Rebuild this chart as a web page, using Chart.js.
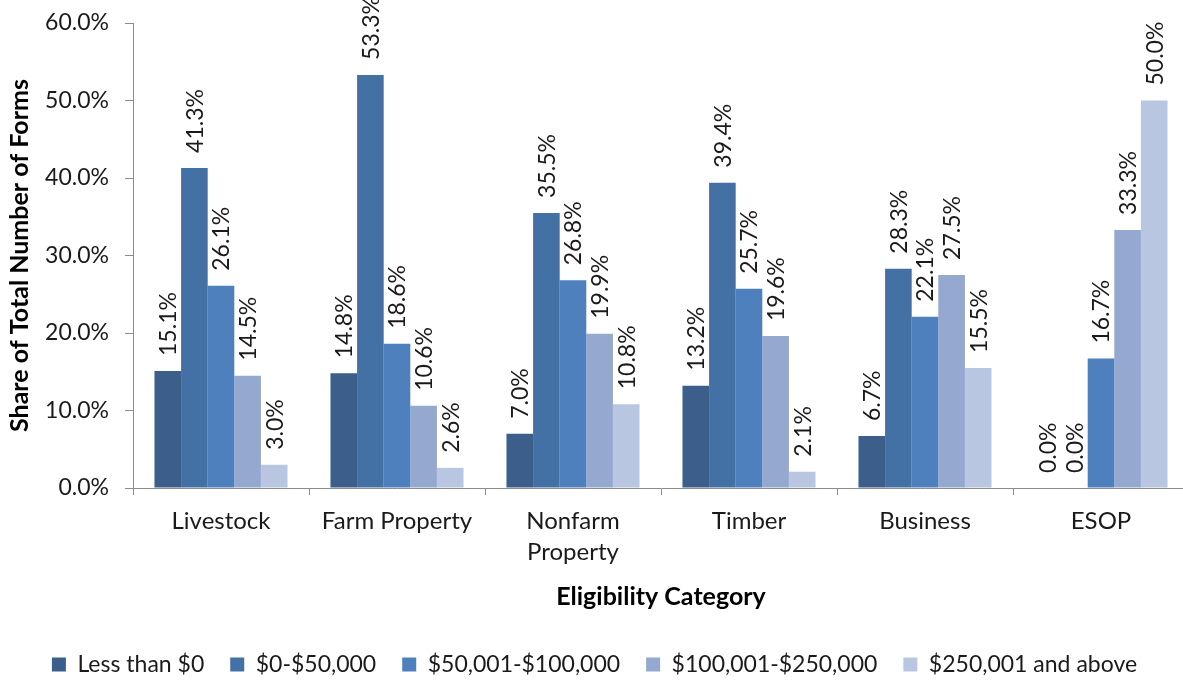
<!DOCTYPE html>
<html>
<head>
<meta charset="utf-8">
<script src="https://cdn.jsdelivr.net/npm/chart.js@4/dist/chart.umd.min.js"></script>
<style>
    html, body { margin: 0; padding: 0; background: #fff; overflow: hidden; }
    #wrap { width: 1196px; height: 686px; }
</style>
</head>
<body>
<div id="wrap"><canvas id="eligibilityChart" width="1196" height="686"></canvas></div>
<script>
// --- Data (percent of total number of forms) ---
const categories = ['Livestock', 'Farm Property', ['Nonfarm', 'Property'], 'Timber', 'Business', 'ESOP'];
const seriesNames = ['Less than $0', '$0-$50,000', '$50,001-$100,000', '$100,001-$250,000', '$250,001 and above'];
const lessThanZero = [15.1, 14.8, 7.0, 13.2, 6.7, 0.0];
const zeroTo50k = [41.3, 53.3, 35.5, 39.4, 28.3, 0.0];
const from50kTo100k = [26.1, 18.6, 26.8, 25.7, 22.1, 16.7];
const from100kTo250k = [14.5, 10.6, 19.9, 19.6, 27.5, 33.3];
const from250kUp = [3.0, 2.6, 10.8, 2.1, 15.5, 50.0];
const yTicks = [0, 10, 20, 30, 40, 50, 60];

const barColors = ['#3B5E8B', '#4370A5', '#4E80BD', '#95A8CF', '#B9C6E2'];
const textColor = '#1a1a1a';
const axisColor = '#8C8C8C';
const FONT = 'Lato';

// Rotated value labels sitting above each bar
const valueLabels = {
    id: 'valueLabels',
    afterDatasetsDraw(chart) {
        const ctx = chart.ctx;
        ctx.save();
        ctx.font = '23px ' + FONT;
        ctx.fillStyle = textColor;
        ctx.textAlign = 'left';
        ctx.textBaseline = 'middle';
        chart.data.datasets.forEach((ds, i) => {
            chart.getDatasetMeta(i).data.forEach((bar, j) => {
                ctx.save();
                ctx.translate(bar.x + 1, bar.y - 15);
                ctx.rotate(-Math.PI / 2);
                ctx.fillText(ds.data[j].toFixed(1) + '%', 0, 0);
                ctx.restore();
            });
        });
        ctx.restore();
    }
};

const allSeries = [lessThanZero, zeroTo50k, from50kTo100k, from100kTo250k, from250kUp];

new Chart(document.getElementById('eligibilityChart').getContext('2d'), {
    type: 'bar',
    data: {
        labels: categories,
        datasets: allSeries.map((vals, i) => ({
            label: seriesNames[i],
            data: vals,
            backgroundColor: barColors[i],
            borderWidth: 0,
            categoryPercentage: 0.756,
            barPercentage: 1.0
        }))
    },
    options: {
        responsive: false,
        animation: false,
        layout: { padding: { top: 23, right: 7, left: 0, bottom: 0 } },
        plugins: {
            tooltip: { enabled: false },
            legend: {
                position: 'bottom',
                labels: {
                    color: textColor,
                    font: { family: FONT, size: 23 },
                    boxWidth: 14,
                    boxHeight: 14,
                    padding: 26
                }
            }
        },
        scales: {
            x: {
                grid: { offset: true, drawOnChartArea: false, tickLength: 7, color: axisColor },
                border: { color: axisColor },
                ticks: {
                    color: textColor,
                    font: { family: FONT, size: 24, lineHeight: 1.29 },
                    padding: 11,
                    maxRotation: 0,
                    autoSkip: false
                },
                title: {
                    display: true,
                    text: 'Eligibility Category',
                    color: '#000',
                    font: { family: FONT, size: 25, weight: 'bold' },
                    padding: { top: 0, bottom: 15 }
                },
                afterFit(scale) { scale.height = 139; }
            },
            y: {
                min: 0,
                max: 60,
                afterBuildTicks(scale) { scale.ticks = yTicks.map(v => ({ value: v })); },
                grid: { drawOnChartArea: false, tickLength: 8, color: axisColor },
                border: { color: axisColor },
                ticks: {
                    color: textColor,
                    // small lineHeight keeps the label overflow from pushing the plot top down
                    font: { family: FONT, size: 23, lineHeight: 0.6 },
                    padding: 16,
                    callback: v => v.toFixed(1) + '%'
                },
                title: {
                    display: true,
                    text: 'Share of Total Number of Forms',
                    color: '#000',
                    font: { family: FONT, size: 25, weight: 'bold' },
                    padding: { top: 5, bottom: 0 }
                },
                afterFit(scale) { scale.width = 133; }
            }
        }
    },
    plugins: [valueLabels]
});
</script>
</body>
</html>
